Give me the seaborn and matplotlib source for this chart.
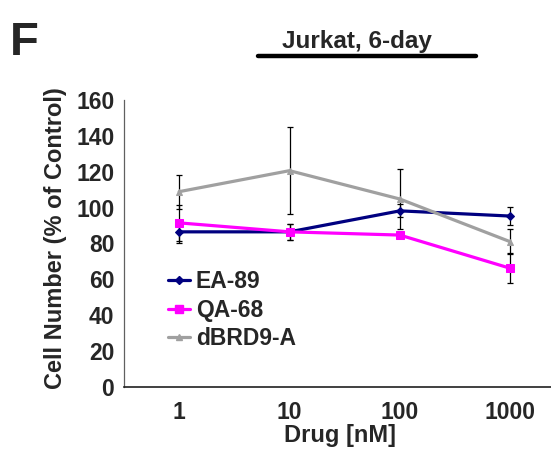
import numpy as np
import pandas as pd
import matplotlib
matplotlib.use('Agg')
import matplotlib.pyplot as plt
import seaborn as sns
from matplotlib.lines import Line2D

# Data
doses = ['1', '10', '100', '1000']
drugs = ['EA-89', 'QA-68', 'dBRD9-A']
ea89 = [86.5, 86.5, 98.2, 95.3]
ea89_err = [6.0, 4.5, 3.7, 4.9]
qa68 = [91.5, 86.5, 84.7, 66.2]
qa68_err = [10.0, 4.5, 1.5, 8.4]
dbrd9 = [108.9, 120.6, 104.8, 81.0]
dbrd9_err = [9.5, 24.2, 16.5, 7.0]

colors = {'EA-89': '#000080', 'QA-68': '#FF00FF', 'dBRD9-A': '#A0A0A0'}
markers = {'EA-89': 'D', 'QA-68': 's', 'dBRD9-A': '^'}
msizes = {'EA-89': 4, 'QA-68': 6, 'dBRD9-A': 5}

df = pd.DataFrame({
    'dose': doses * 3,
    'pos': list(range(len(doses))) * 3,
    'value': ea89 + qa68 + dbrd9,
    'err': ea89_err + qa68_err + dbrd9_err,
    'drug': [d for d in drugs for _ in doses],
})

sns.set_style('white')
plt.rcParams['font.family'] = ['Liberation Sans', 'DejaVu Sans']
plt.rcParams['font.weight'] = 'bold'

fig = plt.figure(figsize=(5.51, 4.53), dpi=100)
ax = fig.add_axes([124 / 551, (453 - 387) / 453, (551 - 124) / 551, (387 - 100) / 453])

# error bars
for d in drugs:
    sub = df[df['drug'] == d]
    ax.errorbar(sub['pos'], sub['value'], yerr=sub['err'], fmt='none',
                ecolor='black', elinewidth=0.9, capsize=2.5, capthick=0.9, zorder=2)

# lines
handles = []
for d in drugs:
    sub = df[df['drug'] == d]
    sns.lineplot(data=sub, x='pos', y='value', ax=ax, color=colors[d], lw=2.3,
                 marker=markers[d], markersize=msizes[d], markeredgecolor=colors[d],
                 zorder=3, legend=False)
    handles.append(Line2D([], [], color=colors[d], lw=2.3, marker=markers[d],
                          markersize=msizes[d], markeredgecolor=colors[d]))

ax.set_xlim(-0.5, 3.37)
ax.set_ylim(0, 160)
ax.set_yticks(np.arange(0, 161, 20))
ax.set_xticks(range(len(doses)))
ax.set_xticklabels(doses, fontsize=16.5, fontweight='bold')
ax.set_xticks([-0.5, 0.5, 1.5, 2.5], minor=True)
ax.tick_params(axis='x', which='major', length=0, pad=10)
ax.tick_params(axis='x', which='minor', length=4, width=0.8, direction='out', color='#404040')
ax.tick_params(axis='y', length=4, width=0.8, direction='out', color='#404040', labelsize=16.5, pad=3)
for lab in ax.get_yticklabels():
    lab.set_fontweight('bold')

sns.despine(ax=ax)
ax.spines['left'].set_color('#606060')
ax.spines['left'].set_linewidth(0.9)
ax.spines['bottom'].set_color('#202020')
ax.spines['bottom'].set_linewidth(1.2)

ax.set_xlabel('Drug [nM]', fontsize=17, fontweight='bold')
ax.xaxis.set_label_coords(0.506, -0.13)
ax.set_ylabel('Cell Number (% of Control)', fontsize=17, fontweight='bold')
ax.yaxis.set_label_coords(-0.133, 0.52)

ax.legend(handles, drugs, loc='upper left', bbox_to_anchor=(0.082, 0.44), frameon=False,
          prop={'size': 16.5, 'weight': 'bold'}, handlelength=0.95, handletextpad=0.25,
          labelspacing=0.25, borderaxespad=0)

fig.text(10 / 551, 1 - 55 / 453, 'F', fontsize=34, fontweight='bold', va='baseline')
fig.text(357 / 551, 1 - 48 / 453, 'Jurkat, 6-day', fontsize=17.5, fontweight='bold',
         ha='center', va='baseline')
fig.add_artist(Line2D([258 / 551, 476 / 551], [1 - 56 / 453, 1 - 56 / 453],
                      color='black', lw=3.2, transform=fig.transFigure))

fig.savefig('out.png', dpi=100)
